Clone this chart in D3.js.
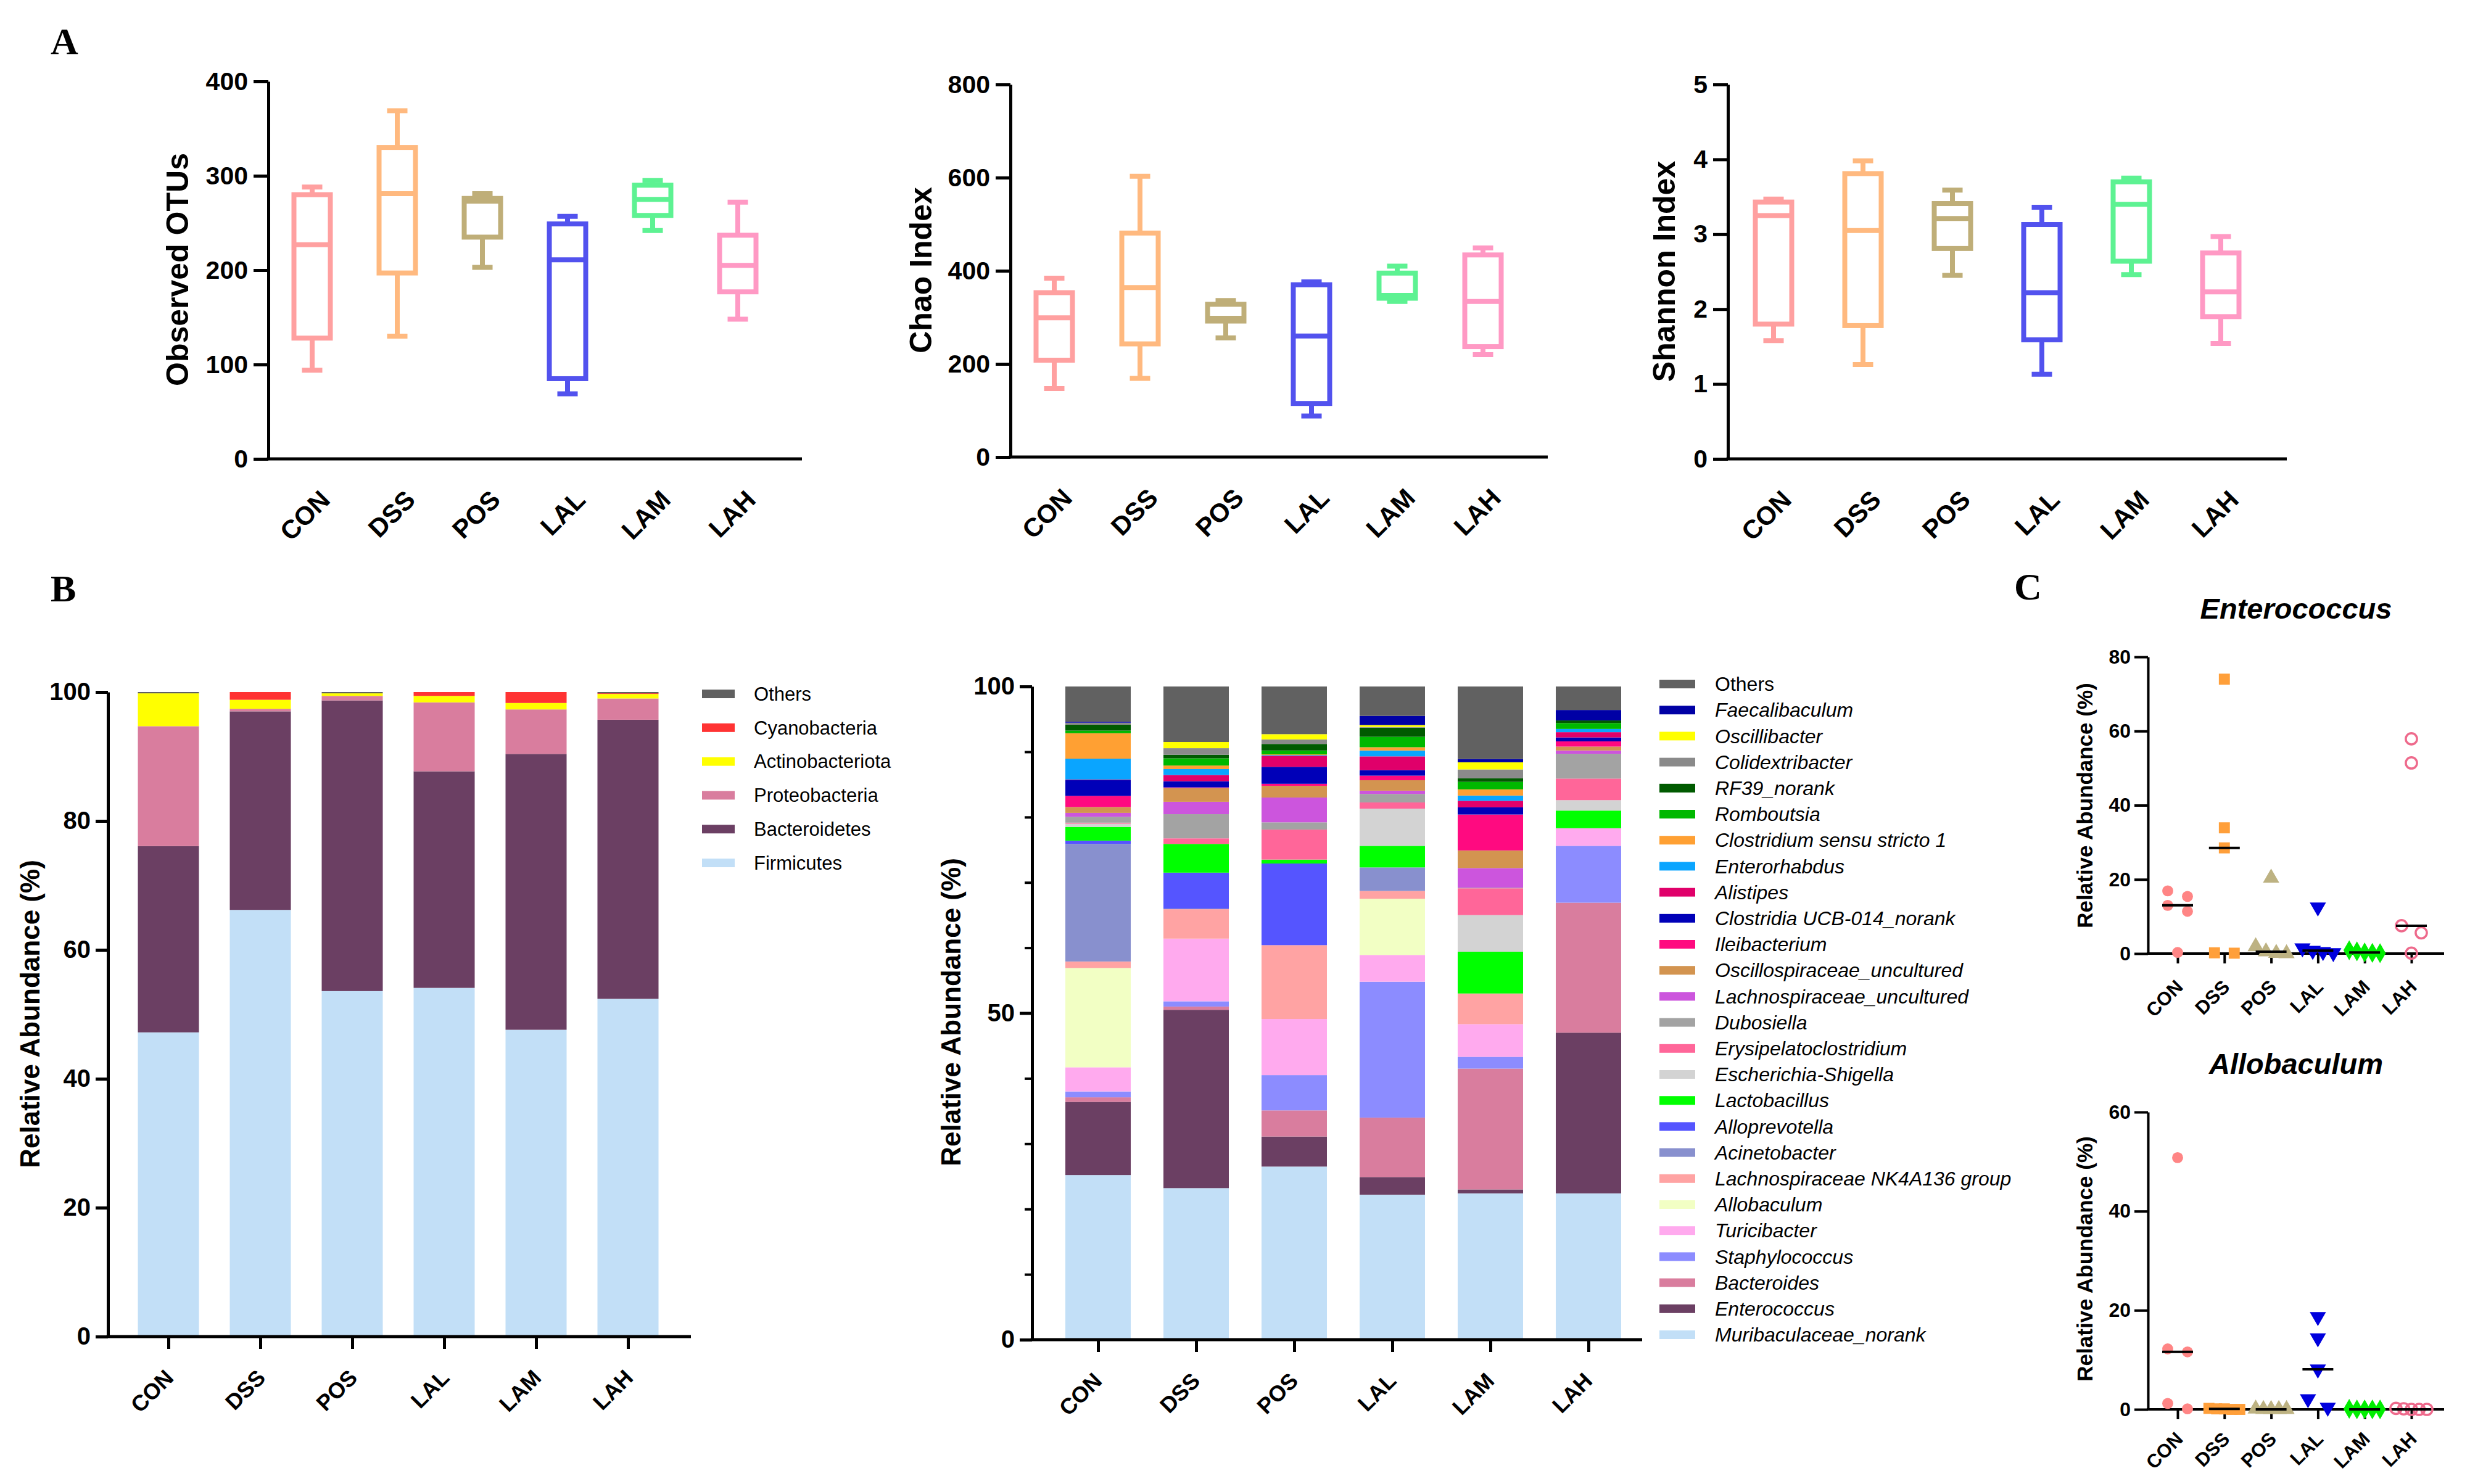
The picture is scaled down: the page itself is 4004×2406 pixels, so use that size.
<!DOCTYPE html>
<html>
<head>
<meta charset="utf-8">
<script src="https://cdn.jsdelivr.net/npm/d3@7/dist/d3.min.js"></script>
<style>
  body { margin: 0; background: #fff; }
  svg text { font-family: "Liberation Sans", Arial, sans-serif; fill: #000; }
</style>
</head>
<body>
<svg id="fig" width="4004" height="2406"></svg>
<script>
// ---------- data ----------
var groups = ["CON", "DSS", "POS", "LAL", "LAM", "LAH"];

// alpha diversity, [min, q1, median, q3, max] per group
var otus    = [[94,128,227,280,288],[130,197,281,330,369],[203,235,273,276,281],[69,85,211,249,257],[242,258,275,290,295],[148,177,205,237,272]];
var chao    = [[147,208,299,353,384],[169,243,364,481,603],[256,292,298,328,336],[88,115,260,370,376],[334,341,347,395,410],[220,237,334,434,449]];
var shannon = [[1.58,1.80,3.25,3.43,3.47],[1.26,1.78,3.05,3.81,3.98],[2.45,2.81,3.21,3.41,3.59],[1.13,1.59,2.22,3.13,3.36],[2.46,2.64,3.40,3.70,3.75],[1.54,1.90,2.23,2.75,2.97]];
var boxColors = ["#FFA0A0", "#FFB97F", "#BFAE78", "#5252EE", "#5DF292", "#FF99C4"];

// phylum level (bottom to top), % per group
var phylumNames  = ["Firmicutes", "Bacteroidetes", "Proteobacteria", "Actinobacteriota", "Cyanobacteria", "Others"];
var phylumColors = ["#C2DFF7", "#6B3F63", "#D97D9E", "#FFFF00", "#FF3333", "#606060"];
var firmicutes       = [47.2, 66.2, 53.6, 54.1, 47.6, 52.4];
var bacteroidetes    = [28.9, 30.8, 45.1, 33.6, 42.8, 43.3];
var proteobacteria   = [18.6, 0.4, 0.7, 10.7, 6.9, 3.3];
var actinobacteriota = [5.1, 1.4, 0.4, 1.0, 1.0, 0.7];
var cyanobacteria    = [0, 1.2, 0, 0.6, 1.7, 0.1];
var phylumOthers     = [0.2, 0, 0.2, 0, 0, 0.2];
var phylumValues = [firmicutes, bacteroidetes, proteobacteria, actinobacteriota, cyanobacteria, phylumOthers];

// genus level (bottom to top), % per group
var genusNames = ["Muribaculaceae_norank", "Enterococcus", "Bacteroides", "Staphylococcus", "Turicibacter",
  "Allobaculum", "Lachnospiraceae NK4A136 group", "Acinetobacter", "Alloprevotella", "Lactobacillus",
  "Escherichia-Shigella", "Erysipelatoclostridium", "Dubosiella", "Lachnospiraceae_uncultured",
  "Oscillospiraceae_uncultured", "Ileibacterium", "Clostridia UCB-014_norank", "Alistipes", "Enterorhabdus",
  "Clostridium sensu stricto 1", "Romboutsia", "RF39_norank", "Colidextribacter", "Oscillibacter",
  "Faecalibaculum", "Others"];
var genusColors = ["#C2DFF7", "#6B3F63", "#D97D9E", "#8C8CFF", "#FFAAEE",
  "#F2FFC4", "#FFA3A3", "#8890CE", "#5555FF", "#00FF00",
  "#D3D3D3", "#FF6699", "#A3A3A3", "#CC55DD",
  "#D39450", "#FF0A80", "#0000B8", "#E0006A", "#0AA5FF",
  "#FFA033", "#00B800", "#005A00", "#8A8A8A", "#FFFF00",
  "#0000A5", "#616161"];
var muribaculaceae = [25.2, 23.2, 26.5, 22.2, 22.4, 22.4];
var enterococcusAb = [11.2, 27.3, 4.6, 2.7, 0.6, 24.6];
var bacteroides    = [0.7, 0.5, 4.0, 9.1, 18.5, 19.9];
var staphylococcus = [0.9, 0.8, 5.4, 20.8, 1.8, 8.7];
var turicibacter   = [3.7, 9.6, 8.6, 4.1, 5.0, 2.7];
var allobaculumAb  = [15.2, 0, 0, 8.6, 0, 0];
var nk4a136        = [1.0, 4.5, 11.3, 1.2, 4.7, 0];
var acinetobacter  = [18.0, 0.1, 0, 3.6, 0, 0];
var alloprevotella = [0.5, 5.5, 12.5, 0, 0, 0];
var lactobacillus  = [2.1, 4.4, 0.6, 3.3, 6.4, 2.7];
var escherichia    = [0.5, 0, 0, 5.7, 5.6, 1.6];
var erysipelato    = [0.15, 0.85, 4.6, 0.95, 4.1, 3.3];
var dubosiella     = [0.9, 3.7, 1.1, 1.3, 0.1, 3.8];
var lachnoUnc      = [0.6, 1.9, 3.8, 0.5, 3.0, 0.5];
var oscilloUnc     = [0.9, 2.1, 1.8, 1.6, 2.7, 0.6];
var ileibacterium  = [1.7, 0.1, 0.3, 0.7, 5.5, 0.8];
var ucb014         = [2.4, 0.95, 2.6, 0.85, 1.1, 0.6];
var alistipes      = [0.1, 0.95, 1.7, 2.1, 1.0, 0.8];
var enterorhabdus  = [3.2, 0.9, 0.1, 0.9, 0.8, 0.5];
var clostridiumSS1 = [3.9, 0.55, 0.1, 0.5, 0.95, 0];
var romboutsia     = [0.4, 1.1, 0.6, 1.6, 1.15, 0.9];
var rf39           = [0.9, 0.55, 1.0, 1.4, 0.55, 0.4];
var colidextri     = [0.3, 1.0, 0.7, 0.1, 1.35, 0];
var oscillibacter  = [0, 0.95, 0.8, 0.3, 1.1, 0];
var faecalibaculum = [0.15, 0, 0, 1.4, 0.5, 1.6];
var genusOthers    = [5.4, 8.5, 7.3, 4.5, 11.1, 3.6];
var genusValues = [muribaculaceae, enterococcusAb, bacteroides, staphylococcus, turicibacter, allobaculumAb,
  nk4a136, acinetobacter, alloprevotella, lactobacillus, escherichia, erysipelato, dubosiella, lachnoUnc,
  oscilloUnc, ileibacterium, ucb014, alistipes, enterorhabdus, clostridiumSS1, romboutsia, rf39, colidextri,
  oscillibacter, faecalibaculum, genusOthers];

// individual samples, relative abundance (%)
var enterococcusPts = [[16.9,15.4,13.0,11.4,0.3],[74.0,33.9,28.5,0.2,0.1],[20.4,1.9,0.5,0.1,0],[12.5,1.5,0.8,0.5,0.2],[0.9,0.6,0.3,0.2,0.1],[57.9,51.4,7.5,5.6,0.1]];
var allobaculumPts  = [[50.8,12.2,11.6,1.2,0.1],[0.2,0.1,0.1,0,0],[0.1,0,0,0,0],[18.7,14.4,8.1,2.1,0.4],[0.1,0,0,0,0],[0.2,0.1,0,0,0]];
var dotColors = ["#FF8585", "#FF9F3A", "#BDB282", "#0000DD", "#00EE00", "#EE6A8C"];

// ---------- helpers ----------
var svg = d3.select("#fig");
svg.append("rect").attr("width", 4004).attr("height", 2406).attr("fill", "#fff");
var FONT = "Liberation Sans, Arial, sans-serif";

function styleAxis(g, font, sw) {
  g.attr("font-family", FONT).attr("font-size", font).attr("font-weight", "bold");
  g.selectAll(".domain").attr("stroke", "#000").attr("stroke-width", sw);
  g.selectAll(".tick line").attr("stroke", "#000").attr("stroke-width", sw);
  g.selectAll(".tick text").attr("fill", "#000");
}

function leftAxis(scale, x, ticks, size, pad, font, sw) {
  var g = svg.append("g").attr("transform", "translate(" + x + ",0)");
  g.call(d3.axisLeft(scale).tickValues(ticks).tickFormat(d3.format("d"))
    .tickSize(size).tickSizeOuter(0).tickPadding(pad));
  styleAxis(g, font, sw);
  return g;
}

function bottomAxis(xs, y0, x1, x2, tick, font, sw, dx, dy) {
  svg.append("line").attr("x1", x1).attr("x2", x2).attr("y1", y0).attr("y2", y0)
    .attr("stroke", "#000").attr("stroke-width", sw);
  var g = svg.append("g").attr("transform", "translate(0," + y0 + ")");
  g.call(d3.axisBottom(xs).tickSize(tick).tickSizeOuter(0));
  g.select(".domain").remove();
  styleAxis(g, font, sw);
  g.selectAll(".tick text")
    .attr("y", 0).attr("dy", 0).attr("text-anchor", "end")
    .attr("transform", "translate(" + dx + "," + dy + ") rotate(-45)");
}

function yTitle(txt, x, y, font) {
  svg.append("text").attr("transform", "translate(" + x + "," + y + ") rotate(-90)")
    .attr("text-anchor", "middle").attr("font-size", font).attr("font-weight", "bold").text(txt);
}

function panelLetter(txt, x, y) {
  svg.append("text").attr("x", x).attr("y", y).style("font-family", "Liberation Serif, Times New Roman, serif")
    .attr("font-size", 62).attr("font-weight", "bold").text(txt);
}

// ---------- panel A : box plots ----------
function boxPanel(o) {
  var y = d3.scaleLinear().domain([0, o.max]).range([o.y0, o.yTop]);
  var x = d3.scalePoint().domain(groups).range([o.x0, o.x0 + 5 * o.step]);
  var boxW = 59, capW = 33;

  var b = svg.append("g").selectAll("g").data(o.data).enter().append("g")
    .attr("stroke", function(d, i) { return boxColors[i]; })
    .attr("stroke-width", 8).attr("fill", "none");
  b.append("line").attr("x1", function(d, i) { return x(groups[i]); }).attr("x2", function(d, i) { return x(groups[i]); })
    .attr("y1", function(d) { return y(d[0]); }).attr("y2", function(d) { return y(d[1]); });
  b.append("line").attr("x1", function(d, i) { return x(groups[i]); }).attr("x2", function(d, i) { return x(groups[i]); })
    .attr("y1", function(d) { return y(d[3]); }).attr("y2", function(d) { return y(d[4]); });
  [0, 4].forEach(function(k) {
    b.append("line").attr("x1", function(d, i) { return x(groups[i]) - capW / 2; })
      .attr("x2", function(d, i) { return x(groups[i]) + capW / 2; })
      .attr("y1", function(d) { return y(d[k]); }).attr("y2", function(d) { return y(d[k]); });
  });
  b.append("rect").attr("x", function(d, i) { return x(groups[i]) - boxW / 2; }).attr("width", boxW)
    .attr("y", function(d) { return y(d[3]); }).attr("height", function(d) { return y(d[1]) - y(d[3]); });
  b.append("line").attr("x1", function(d, i) { return x(groups[i]) - boxW / 2; })
    .attr("x2", function(d, i) { return x(groups[i]) + boxW / 2; })
    .attr("y1", function(d) { return y(d[2]); }).attr("y2", function(d) { return y(d[2]); });

  leftAxis(y, o.axisX, o.ticks, 24, 9, 41, 5);
  bottomAxis(x, o.y0, o.axisX - 2.5, o.axisEnd, 0, 42, 5, 31, 69);
  yTitle(o.title, o.titleX, o.titleY, 50);
}

panelLetter("A", 82, 88);
boxPanel({ data: otus, max: 400, ticks: [0, 100, 200, 300, 400], x0: 506, step: 138, axisX: 435, axisEnd: 1300,
  y0: 744, yTop: 132, title: "Observed OTUs", titleX: 305, titleY: 437 });
boxPanel({ data: chao, max: 800, ticks: [0, 200, 400, 600, 800], x0: 1709, step: 139, axisX: 1638, axisEnd: 2509,
  y0: 741, yTop: 137, title: "Chao Index", titleX: 1510, titleY: 438 });
boxPanel({ data: shannon, max: 5, ticks: [0, 1, 2, 3, 4, 5], x0: 2875, step: 145, axisX: 2801, axisEnd: 3707,
  y0: 744, yTop: 137, title: "Shannon Index", titleX: 2715, titleY: 440 });

// ---------- panel B : stacked bars ----------
function stackPanel(o) {
  var rows = groups.map(function(g, j) {
    var r = { group: g };
    o.names.forEach(function(n, k) { r[n] = o.values[k][j]; });
    return r;
  });
  var series = d3.stack().keys(o.names)(rows);
  var y = d3.scaleLinear().domain([0, 100]).range([o.y0, o.yTop]);
  var x = d3.scalePoint().domain(groups).range([o.x0, o.x0 + 5 * o.step]);

  svg.append("g").selectAll("g").data(series).enter().append("g")
    .attr("fill", function(d, k) { return o.colors[k]; })
    .selectAll("rect").data(function(d) { return d; }).enter().append("rect")
    .attr("x", function(d) { return x(d.data.group) - o.barW / 2; })
    .attr("width", o.barW)
    .attr("y", function(d) { return y(d[1]); })
    .attr("height", function(d) { return Math.max(0, y(d[0]) - y(d[1])); });

  if (o.minor) {
    var gm = svg.append("g").attr("transform", "translate(" + o.axisX + ",0)");
    gm.call(d3.axisLeft(y).tickValues(o.minor).tickSize(12).tickSizeOuter(0).tickFormat(""));
    styleAxis(gm, 10, 4);
  }
  leftAxis(y, o.axisX, o.ticks, 20, 8, 40, 5);
  bottomAxis(x, o.y0, o.axisX - 2.5, o.axisEnd, 20, 36, 5, o.lx, 69);
  yTitle("Relative Abundance (%)", o.titleX, o.titleY, 44);

  var lg = svg.append("g").selectAll("g").data(o.names.slice().reverse()).enter().append("g")
    .attr("transform", function(d, i) { return "translate(0," + (o.legY + i * o.legStep) + ")"; });
  lg.append("rect").attr("x", o.legX).attr("y", -7).attr("width", o.swW).attr("height", 14)
    .attr("fill", function(d) { return o.colors[o.names.indexOf(d)]; });
  lg.append("text").attr("x", o.legX + o.swW + o.legGap).attr("dy", "0.35em").attr("font-size", o.legFont)
    .attr("font-style", function(d) { return o.italic && d !== "Others" ? "italic" : "normal"; })
    .text(function(d) { return d; });
}

panelLetter("B", 82, 975);
stackPanel({ names: phylumNames, values: phylumValues, colors: phylumColors, x0: 273, step: 149, barW: 99,
  axisX: 175, axisEnd: 1120, y0: 2167, yTop: 1122, ticks: [0, 20, 40, 60, 80, 100], lx: 10,
  titleX: 64, titleY: 1644, legX: 1138, swW: 53, legGap: 31, legY: 1125, legStep: 54.8, legFont: 31, italic: false });
stackPanel({ names: genusNames, values: genusValues, colors: genusColors, x0: 1780, step: 159, barW: 106,
  axisX: 1673, axisEnd: 2662, y0: 2172, yTop: 1113, ticks: [0, 50, 100], minor: [10, 20, 30, 40, 60, 70, 80, 90], lx: 8,
  titleX: 1557, titleY: 1641, legX: 2690, swW: 58, legGap: 32, legY: 1109, legStep: 42.2, legFont: 32, italic: true });

// ---------- panel C : dot plots ----------
var shapes = [d3.symbolCircle, d3.symbolSquare, d3.symbolTriangle, d3.symbolTriangle, d3.symbolDiamond, d3.symbolCircle];
var shapeSize = [250, 320, 300, 300, 300, 260];

function dotPanel(o) {
  var y = d3.scaleLinear().domain([0, o.max]).range([o.y0, o.yTop]);
  var x = d3.scalePoint().domain(groups).range([3530, 3530 + 5 * 75.8]);

  leftAxis(y, 3482, o.ticks, 22, 6, 32, 4);
  bottomAxis(x, o.y0, 3480, 3962, 16, 31, 4, 10, o.ly);
  yTitle("Relative Abundance (%)", 3392, o.titleY, 35);
  svg.append("text").attr("x", 3722).attr("y", o.headY).attr("text-anchor", "middle")
    .attr("font-size", 47).attr("font-weight", "bold").attr("font-style", "italic").text(o.head);

  // rows of nearby samples are spread sideways, as in a column scatter
  var pts = [];
  o.data.forEach(function(vals, i) {
    var sorted = vals.slice().sort(d3.descending), row = [];
    function flush() {
      var sp = row.length > 1 ? Math.min(32, 50 / (row.length - 1)) : 0;
      row.forEach(function(v, k) { pts.push({ i: i, v: v, dx: (k - (row.length - 1) / 2) * sp }); });
      row = [];
    }
    sorted.forEach(function(v) {
      if (row.length && y(v) - y(row[0]) > 18) flush();
      row.push(v);
    });
    flush();
  });

  svg.append("g").selectAll("path").data(pts).enter().append("path")
    .attr("d", function(d) { return d3.symbol().type(shapes[d.i]).size(shapeSize[d.i])(); })
    .attr("transform", function(d) {
      return "translate(" + (x(groups[d.i]) + d.dx) + "," + y(d.v) + ")" + (d.i === 3 ? " rotate(180)" : "");
    })
    .attr("fill", function(d) { return d.i === 5 ? "none" : dotColors[d.i]; })
    .attr("stroke", function(d) { return d.i === 5 ? dotColors[d.i] : "none"; })
    .attr("stroke-width", 3.5);

  svg.append("g").selectAll("line").data(o.data).enter().append("line")
    .attr("x1", function(d, i) { return x(groups[i]) - 25; })
    .attr("x2", function(d, i) { return x(groups[i]) + 25; })
    .attr("y1", function(d) { return y(d3.median(d)); })
    .attr("y2", function(d) { return y(d3.median(d)); })
    .attr("stroke", "#000").attr("stroke-width", 4);
}

panelLetter("C", 3265, 972);
dotPanel({ data: enterococcusPts, max: 80, ticks: [0, 20, 40, 60, 80], y0: 1546, yTop: 1065, ly: 56,
  titleY: 1306, head: "Enterococcus", headY: 1003 });
dotPanel({ data: allobaculumPts, max: 60, ticks: [0, 20, 40, 60], y0: 2285, yTop: 1803, ly: 50,
  titleY: 2041, head: "Allobaculum", headY: 1741 });
</script>
</body>
</html>
